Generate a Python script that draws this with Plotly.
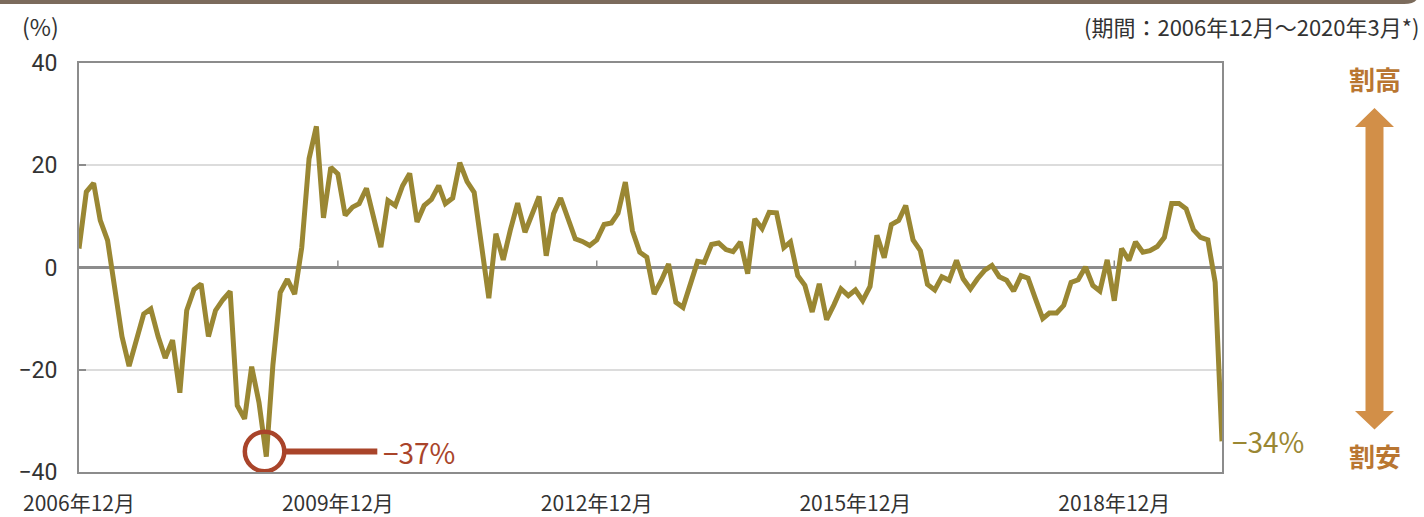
import pandas as pd
import plotly.graph_objects as go

# ---- data ----
start_month = "2006-12-01"
values = [
    3.7, 14.8, 16.5, 9.2, 5.3, -4.0, -13.5, -19.3, -14.2, -9.1,
    -8.1, -13.5, -17.7, -14.2, -24.5, -8.4, -4.3, -3.2, -13.5, -8.4,
    -6.3, -4.7, -27.0, -29.6, -19.4, -26.4, -37.0, -19.0, -4.9, -2.3,
    -5.2, 3.9, 21.3, 27.6, 9.7, 19.6, 18.3, 10.2, 11.8, 12.5,
    15.5, 10.3, 4.0, 13.1, 12.1, 16.0, 18.4, 8.9, 12.1, 13.3,
    16.0, 12.5, 13.6, 20.5, 16.8, 14.7, 4.5, -6.0, 6.6, 1.5,
    7.3, 12.6, 6.9, 10.2, 13.9, 2.3, 10.5, 13.6, 9.6, 5.6,
    5.1, 4.3, 5.4, 8.4, 8.7, 10.6, 16.7, 7.2, 3.0, 2.0,
    -5.2, -2.5, 0.7, -6.8, -7.8, -3.2, 1.2, 1.0, 4.5, 4.8,
    3.5, 3.1, 5.0, -1.2, 9.5, 7.6, 10.8, 10.7, 3.9, 5.0,
    -1.6, -3.5, -8.7, -3.2, -10.2, -7.3, -4.2, -5.5, -4.4, -6.5,
    -3.7, 6.3, 1.9, 8.4, 9.2, 12.1, 5.4, 3.3, -3.3, -4.4,
    -1.8, -2.5, 1.4, -2.2, -4.2, -2.2, -0.5, 0.4, -1.8, -2.5,
    -4.6, -1.6, -2.1, -6.1, -10.0, -8.9, -8.9, -7.4, -2.9, -2.4,
    0.1, -3.5, -4.6, 1.5, -6.5, 3.7, 1.4, 5.0, 3.0, 3.3,
    4.1, 5.9, 12.5, 12.5, 11.5, 7.4, 5.9, 5.4, -2.9, -34.0,
]
tick_dates = ["2006-12-01", "2009-12-01", "2012-12-01", "2015-12-01", "2018-12-01"]
tick_labels = ["2006年12月", "2009年12月", "2012年12月", "2015年12月", "2018年12月"]
y_ticks = [40, 20, 0, -20, -40]
y_tick_labels = ["40", "20", "0", "−20", "−40"]
low_label = "−37%"
last_label = "−34%"
low_index = 26
period_note = "(期間：2006年12月～2020年3月*)"
unit_label = "(%)"
high_text = "割高"
cheap_text = "割安"

dates = pd.date_range(start_month, periods=len(values), freq="MS")

# ---- style ----
FONT = "Noto Sans CJK JP"
NUM_FONT = "Roboto"
LINE_C = "#9A8733"
RUST = "#A9442A"
ARROW_C = "#D28F48"
WORD_C = "#B97631"
AXIS_C = "#8C8C8C"
TEXT_C = "#333333"

W, H = 1424, 517
L, R, T, B = 79, 1222, 63, 472


def px(X):
    return (X - L) / (R - L)


def py(Y):
    return (B - Y) / (B - T)


fig = go.Figure()
fig.add_trace(go.Scatter(
    x=dates, y=values, mode="lines",
    line=dict(color=LINE_C, width=5),
    hoverinfo="x+y",
))

shapes = []
# ticks on the zero line
for d in tick_dates[1:]:
    shapes.append(dict(type="line", xref="x", yref="y", ysizemode="pixel", yanchor=0,
                       x0=d, x1=d, y0=0, y1=7, line=dict(color=AXIS_C, width=1.5)))
# circle around the low point
low_date = dates[low_index]
shapes.append(dict(type="circle", xref="x", yref="y", xsizemode="pixel", ysizemode="pixel",
                   xanchor=low_date, yanchor=-36, x0=-21.5, x1=18.0, y0=-19.7, y1=19.7,
                   line=dict(color=RUST, width=4.5), layer="above"))
shapes.append(dict(type="line", xref="x", yref="y", xsizemode="pixel",
                   xanchor=low_date, x0=19, x1=111, y0=-36, y1=-36,
                   line=dict(color=RUST, width=6)))
# double arrow (paper coords)
pts = [(1374.5, 108), (1394, 127), (1383.5, 127), (1383.5, 411), (1394, 411),
       (1374.5, 429.5), (1355, 411), (1365.5, 411), (1365.5, 127), (1355, 127)]
path = "M " + " L ".join(f"{px(a):.5f},{py(b):.5f}" for a, b in pts) + " Z"
shapes.append(dict(type="path", xref="paper", yref="paper", path=path,
                   fillcolor=ARROW_C, line=dict(width=0)))
# top frame band
band = (f"M {px(-5):.5f},{py(-5):.5f} L {px(1418):.5f},{py(-5):.5f} "
        f"Q {px(1418):.5f},{py(4):.5f} {px(1404):.5f},{py(4):.5f} "
        f"L {px(-5):.5f},{py(4):.5f} Z")
shapes.append(dict(type="path", xref="paper", yref="paper", path=band,
                   fillcolor="#7B6B5C", line=dict(width=0)))

annotations = [
    dict(text=unit_label, xref="paper", yref="paper", x=px(20), y=py(26),
         xanchor="left", yanchor="middle", showarrow=False,
         font=dict(family=FONT, size=23, color=TEXT_C)),
    dict(text=period_note, xref="paper", yref="paper", x=px(1421), y=py(26),
         xanchor="right", yanchor="middle", showarrow=False,
         font=dict(family=FONT, size=22, color=TEXT_C)),
    dict(text=f"<b>{high_text}</b>", xref="paper", yref="paper", x=px(1374.5), y=py(78),
         xanchor="center", yanchor="middle", showarrow=False,
         font=dict(family=FONT, size=26, color=WORD_C)),
    dict(text=f"<b>{cheap_text}</b>", xref="paper", yref="paper", x=px(1374.5), y=py(455),
         xanchor="center", yanchor="middle", showarrow=False,
         font=dict(family=FONT, size=26, color=WORD_C)),
    dict(text=last_label, xref="x", yref="y", x=dates[-1], y=values[-1],
         xanchor="left", yanchor="middle", xshift=8, showarrow=False,
         font=dict(family=FONT, size=28, color=LINE_C)),
    dict(text=low_label, xref="x", yref="y", x=low_date, y=-36,
         xanchor="left", yanchor="middle", xshift=115, showarrow=False,
         font=dict(family=FONT, size=28, color=RUST)),
]

fig.update_layout(
    width=W, height=H,
    margin=dict(l=L, r=W - R, t=T, b=H - B),
    paper_bgcolor="white", plot_bgcolor="white",
    showlegend=False,
    font=dict(family=FONT, color=TEXT_C),
    shapes=shapes, annotations=annotations,
    xaxis=dict(
        type="date", range=[dates[0], dates[-1]],
        tickvals=tick_dates, ticktext=tick_labels,
        showgrid=False, zeroline=False, automargin=False,
        showline=True, mirror=True, linecolor=AXIS_C, linewidth=2,
        ticks="", ticklabelstandoff=12,
        tickfont=dict(family=FONT, size=21, color=TEXT_C),
    ),
    yaxis=dict(
        range=[-40, 40], tickvals=y_ticks, ticktext=y_tick_labels,
        showgrid=True, gridcolor="#DCDCDC", gridwidth=1.5,
        zeroline=True, zerolinecolor=AXIS_C, zerolinewidth=2.5, automargin=False,
        showline=True, mirror=True, linecolor=AXIS_C, linewidth=2,
        ticks="inside", ticklen=7, tickcolor=AXIS_C, tickwidth=1.5,
        ticklabelstandoff=15,
        tickfont=dict(family=NUM_FONT, size=23, color=TEXT_C),
    ),
)

fig.write_html(
    "out.html",
    config={"displayModeBar": False},
    post_script="document.body.style.margin='0';document.body.style.overflow='hidden';",
)
